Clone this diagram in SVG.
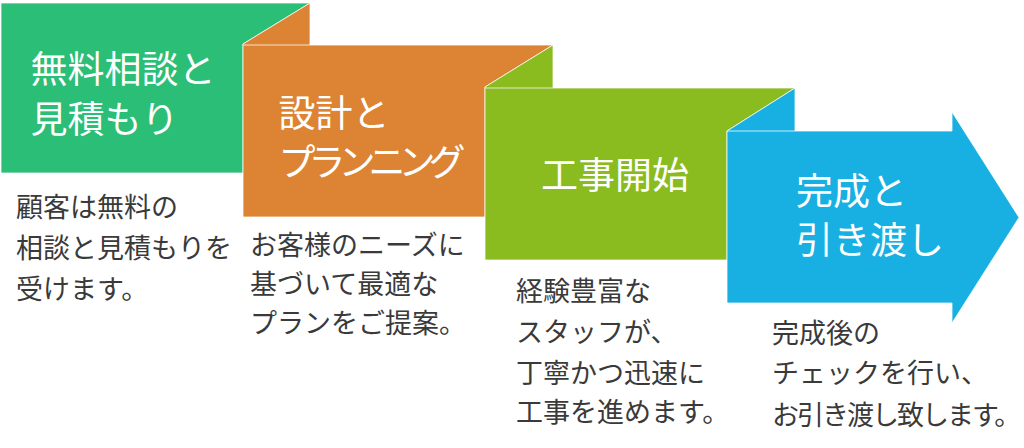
<svg xmlns="http://www.w3.org/2000/svg" width="1024" height="448" viewBox="0 0 1024 448">
<style>
.shape{stroke:#ffffff;stroke-width:1;stroke-opacity:0.75;stroke-linejoin:miter}
.inner{stroke:#ffffff;stroke-width:1;stroke-opacity:0.75}
.title{font-family:"Noto Sans CJK JP","Noto Sans",sans-serif;font-size:37px;fill:#ffffff}
.desc{font-family:"Noto Sans CJK JP","Noto Sans",sans-serif;font-size:27px;fill:#3a3a3a}
</style>
<rect width="1024" height="448" fill="#ffffff"/>
<g id="step1">
<polygon class="shape" fill="#2bbe76" points="1,3 310,3 243,44 243,173 1,173"/>
<text class="title" x="30.5" y="82.5">無料相談と</text>
<text class="title" x="30.5" y="132.5">見積もり</text>
<text class="desc" x="16" y="217">顧客は無料の</text>
<text class="desc" x="16" y="258">相談と見積もりを</text>
<text class="desc" x="16" y="299">受けます。</text>
</g>
<g id="step2">
<polygon class="shape" fill="#dd8434" points="243,44 310,3 310,45 553,45 485,87 485,217 243,217"/>
<line class="inner" x1="243" y1="45" x2="310" y2="45"/>
<text class="title" x="278.5" y="126.5">設計と</text>
<text class="title" x="278.5" y="176" letter-spacing="-7">プランニング</text>
<text class="desc" x="250" y="255">お客様のニーズに</text>
<text class="desc" x="250" y="294">基づいて最適な</text>
<text class="desc" x="250" y="333">プランをご提案。</text>
</g>
<g id="step3">
<polygon class="shape" fill="#8abb1f" points="485,87 553,45 553,88 795,88 727,131 727,260 485,260"/>
<line class="inner" x1="485" y1="88" x2="553" y2="88"/>
<text class="title" x="541" y="189">工事開始</text>
<text class="desc" x="516" y="301">経験豊富な</text>
<text class="desc" x="516" y="342">スタッフが、</text>
<text class="desc" x="516" y="383">丁寧かつ迅速に</text>
<text class="desc" x="516" y="422">工事を進めます。</text>
</g>
<g id="step4">
<polygon class="shape" fill="#18b0e2" points="727,131 795,88 795,131 952,131 952,112 1019,217.5 952,323 952,303 727,303"/>
<line class="inner" x1="727" y1="131" x2="795" y2="131"/>
<text class="title" x="796" y="205">完成と</text>
<text class="title" x="796" y="254">引き渡し</text>
<text class="desc" x="772" y="343">完成後の</text>
<text class="desc" x="772" y="383">チェックを行い、</text>
<text class="desc" x="772" y="425" letter-spacing="-2">お引き渡し致します。</text>
</g>
<g id="connectors"></g>
</svg>
